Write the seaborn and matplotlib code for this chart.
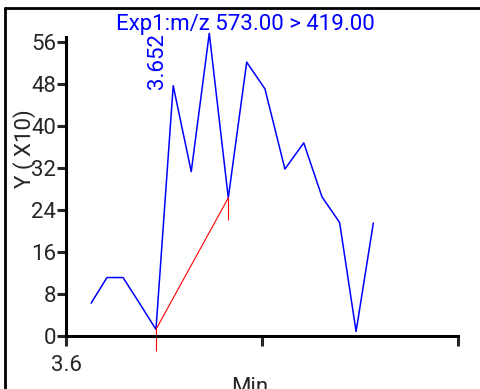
import matplotlib
matplotlib.use('Agg')
import matplotlib.pyplot as plt
from matplotlib.lines import Line2D
import pandas as pd
import seaborn as sns

# Chromatogramme MRM - trace 573 > 419
temps_min = [3.6128, 3.6209, 3.6291, 3.6375, 3.6459, 3.6547, 3.6639, 3.6731,
             3.6828, 3.6922, 3.7015, 3.7117, 3.7213, 3.7306, 3.7396, 3.7480,
             3.7568]
intensite = [6.2, 11.1, 11.1, 6.2, 1.2, 47.7, 31.3, 57.7,
             26.3, 52.2, 47.1, 31.8, 36.8, 26.5, 21.6, 0.8,
             21.5]

# ligne de base du pic integre (debut, fin)
base_temps = [3.6459, 3.6828]
base_valeurs = [1.2, 26.3]
profondeur_marque = 4.2

pic_rt = 3.652
pic_temps = 3.6547
pic_valeur = 47.7

titre = 'Exp1:m/z 573.00 > 419.00'
yticks = [0, 8, 16, 24, 32, 40, 48, 56]
xticks = [3.6, 3.7, 3.8]
xtick_labels = ['3.6', '', '']

BLEU = '#0000FF'
ROUGE = '#FF0000'
TAILLE = 16

sns.set_style('white')
plt.rcParams['font.family'] = ['Roboto', 'DejaVu Sans']

W, H = 481, 389
fig = plt.figure(figsize=(W / 100, H / 100), dpi=100)
ax = fig.add_axes([66 / W, (H - 335.7) / H, 392 / W, (335.7 - 37) / H])

df = pd.DataFrame({'temps': temps_min, 'intensite': intensite})
sns.lineplot(data=df, x='temps', y='intensite', ax=ax, color=BLEU,
             linewidth=1.1, clip_on=False)

ax.plot(base_temps, base_valeurs, color=ROUGE, linewidth=0.8, clip_on=False)
ax.vlines(base_temps, [v - profondeur_marque for v in base_valeurs], base_valeurs,
          color=ROUGE, linewidth=0.8, clip_on=False)

ax.annotate(f'{pic_rt:.3f}', xy=(pic_temps, pic_valeur), xytext=(-11, -2),
            textcoords='offset points', rotation=90, ha='center', va='bottom',
            color=BLEU, fontsize=TAILLE)

ax.set_xlim(3.6, 3.8)
ax.set_ylim(0, 57)
ax.set_xticks(xticks)
ax.set_xticklabels(xtick_labels)
ax.set_yticks(yticks)
ax.set_xlabel('')
ax.set_ylabel('')

for s in ['top', 'right']:
    ax.spines[s].set_visible(False)
for s in ['left', 'bottom']:
    ax.spines[s].set_linewidth(2.2)
    ax.spines[s].set_color('black')

ax.tick_params(axis='y', direction='out', length=6.5, width=2.2, pad=0.5,
               labelsize=TAILLE, left=True)
ax.tick_params(axis='x', direction='out', length=7.5, width=2.2, pad=6.5,
               labelsize=TAILLE, bottom=True)
for lab in ax.get_yticklabels():
    lab.set_verticalalignment('center_baseline')

fig.text(245.7 / W, 1 - 30 / H, titre, ha='center', va='baseline',
         color=BLEU, fontsize=TAILLE)
fig.text(25 / W, 1 - 149 / H, 'Y ( X10)', rotation=90, ha='center',
         va='center', fontsize=TAILLE)
fig.text(250 / W, 1 - 377 / H, 'Min', ha='center', va='top', fontsize=TAILLE)

# cadre de la fenetre (bords gauche et haut)
fig.add_artist(Line2D([5.3 / W, 5.3 / W], [0, 1 - 8 / H], color='black',
                      linewidth=2, transform=fig.transFigure))
fig.add_artist(Line2D([5.3 / W, 1], [1 - 8 / H, 1 - 8 / H], color='black',
                      linewidth=2, transform=fig.transFigure))

fig.savefig('out.png', dpi=100, facecolor='white')
